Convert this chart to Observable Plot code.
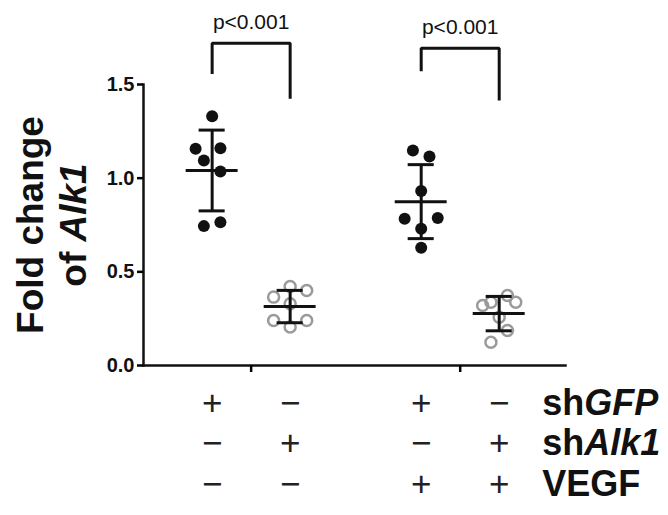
<!DOCTYPE html>
<html><head><meta charset="utf-8">
<script src="https://cdn.jsdelivr.net/npm/d3@7"></script>
<script src="https://cdn.jsdelivr.net/npm/@observablehq/plot@0.6"></script>
<style>body{margin:0;background:#fff}</style>
</head><body><div id="chart"></div>
<script>
// ---- data ----
const groups = ["shGFP", "shAlk1", "shGFP+VEGF", "shAlk1+VEGF"];
const filled = [true, false, true, false];
const g1 = [1.331, 1.157, 1.160, 1.094, 1.036, 0.744, 0.765];
const g2 = [0.365, 0.422, 0.400, 0.240, 0.205, 0.240, 0.330];
const g3 = [1.148, 1.116, 0.931, 0.783, 0.787, 0.730, 0.628];
const g4 = [0.320, 0.338, 0.374, 0.338, 0.258, 0.187, 0.124];
// horizontal scatter slot of each point (as drawn)
const j1 = [0, -2, 1, -1, 1, -1, 1];
const j2 = [-2, 0, 2, -2, 0, 2, 0];
const j3 = [-1, 1, 0, -2, 2, 0, 0];
const j4 = [-2, -1, 1, 2, 0, 1, -1];
const rowShGFP = ["+", "−", "+", "−"];
const rowShAlk1 = ["−", "+", "−", "+"];
const rowVEGF = ["−", "−", "+", "+"];
const rowLabels = ["shGFP", "shAlk1", "VEGF"];
const yTicks = [0, 0.5, 1.0, 1.5];
const comparisons = [[0, 1], [2, 3]];
const pLabels = ["p<0.001", "p<0.001"];
const yTitle = ["Fold change", "of Alk1"];

// ---- layout helpers ----
const pos = i => 1 + i + (i >= 2 ? 0.68 : 0);
const slotW = 0.106;
const values = [g1, g2, g3, g4];
const jit = [j1, j2, j3, j4];
const points = values.flatMap((vals, gi) => vals.map((v, k) => ({
  g: gi, x: pos(gi) + jit[gi][k] * slotW, y: v, filled: filled[gi]
})));
const stats = values.map((vals, gi) => {
  const m = d3.mean(vals), sd = d3.deviation(vals);
  return {x: pos(gi), mean: m, lo: m - sd, hi: m + sd};
});
const bracketSpec = [
  {top: 1.72, left: 1.556, right: 1.424},
  {top: 1.694, left: 1.571, right: 1.415}
];
const brackets = comparisons.flatMap(([a, b], i) => {
  const s = bracketSpec[i];
  return [
    {z: i, x: pos(a), y: s.left},
    {z: i, x: pos(a), y: s.top},
    {z: i, x: pos(b), y: s.top},
    {z: i, x: pos(b), y: s.right}
  ];
});
const pText = comparisons.map(([a, b], i) => ({x: (pos(a) + pos(b)) / 2, y: bracketSpec[i].top + 0.075, t: pLabels[i]}));
const tableRows = [rowShGFP, rowShAlk1, rowVEGF];
const rowDy = [38, 78, 119];
const font = "Liberation Sans, Arial, sans-serif";

const marks = [
  Plot.frame({anchor: "left", strokeWidth: 2.5, stroke: "#111"}),
  Plot.frame({anchor: "bottom", strokeWidth: 2.5, stroke: "#111"}),
  Plot.axisY(yTicks, {tickSize: 6, strokeWidth: 2.5, fontSize: 20, fontWeight: "bold", tickFormat: d3.format(".1f"), label: null, tickPadding: 3, fill: "#111"}),
  Plot.axisX([(pos(0) + pos(1)) / 2, (pos(2) + pos(3)) / 2], {tickSize: 7, strokeWidth: 2.5, tickFormat: () => "", label: null}),
  Plot.dot(points.filter(d => d.filled), {x: "x", y: "y", r: 6, fill: "#111", stroke: "none"}),
  Plot.dot(points.filter(d => !d.filled), {x: "x", y: "y", r: 5.5, fill: "none", stroke: "#9a9a9a", strokeWidth: 2.5}),
  Plot.ruleX(stats, {x: "x", y1: "lo", y2: "hi", strokeWidth: 3, stroke: "#111"}),
  Plot.ruleY(stats, {y: "hi", x1: d => d.x - 0.167, x2: d => d.x + 0.167, strokeWidth: 3, stroke: "#111"}),
  Plot.ruleY(stats, {y: "lo", x1: d => d.x - 0.167, x2: d => d.x + 0.167, strokeWidth: 3, stroke: "#111"}),
  Plot.ruleY(stats, {y: "mean", x1: d => d.x - 0.333, x2: d => d.x + 0.333, strokeWidth: 3, stroke: "#111"}),
  Plot.line(brackets, {x: "x", y: "y", z: "z", strokeWidth: 3, stroke: "#111", strokeLinejoin: "miter", strokeLinecap: "butt", clip: false}),
  Plot.text(pText, {x: "x", y: "y", text: "t", fontSize: 21, lineAnchor: "bottom", fill: "#111"}),
  ...tableRows.map((row, r) => Plot.text(row, {x: (d, i) => pos(i), text: d => d, frameAnchor: "bottom", dy: rowDy[r], fontSize: 35, fill: "#222", lineAnchor: "middle"}))
];
rowLabels.forEach((lab, r) => marks.push(
  Plot.text([lab], {x: pos(3), text: d => d, frameAnchor: "bottom", dy: rowDy[r], fontSize: 36, fontWeight: "bold", textAnchor: "start", dx: 43, lineAnchor: "middle", fill: "#111"})
));
const titleDx = [-101, -58];
yTitle.forEach((t, i) => marks.push(
  Plot.text([t], {text: d => d, frameAnchor: "left", dx: titleDx[i], rotate: -90, fontSize: 37, fontWeight: "bold", lineAnchor: "bottom", textAnchor: "middle", fill: "#111"})
));

const chart = Plot.plot({
  width: 668, height: 515,
  marginLeft: 143, marginRight: 103, marginTop: 84, marginBottom: 150,
  style: {fontFamily: font, background: "#fff", overflow: "visible"},
  x: {type: "linear", domain: [0.12, 5.53], axis: null},
  y: {domain: [0, 1.5], axis: null},
  marks
});
document.getElementById("chart").appendChild(chart);

// italic gene names
const italics = {"shGFP": ["sh", "GFP"], "shAlk1": ["sh", "Alk1"], "of Alk1": ["of ", "Alk1"]};
d3.select(chart).selectAll("text").each(function () {
  const t = this.textContent;
  if (italics[t]) {
    const [a, b] = italics[t];
    const sel = d3.select(this);
    sel.text(null);
    sel.append("tspan").text(a);
    sel.append("tspan").attr("font-style", "italic").text(b);
  }
});
</script>
</body></html>
